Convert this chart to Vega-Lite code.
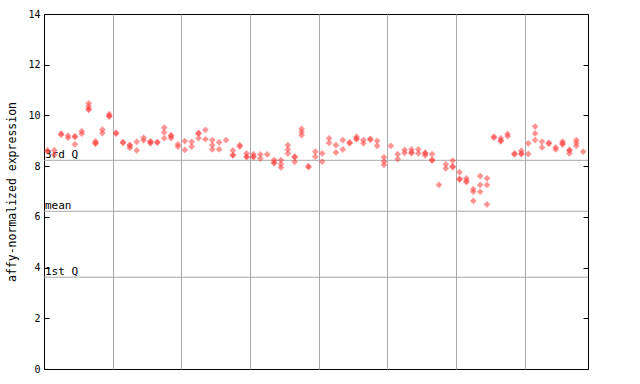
{
  "$schema": "https://vega.github.io/schema/vega-lite/v6.json",
  "width": 544,
  "height": 355,
  "autosize": "none",
  "padding": {"left": 44, "top": 14, "right": 52, "bottom": 15},
  "config": {"view": {"stroke": "#000000", "strokeWidth": 1}, "font": "DejaVu Sans Mono"},
  "layer": [
    {
      "data": {"values": [{"label": "3rd Q", "value": 8.23}, {"label": "mean", "value": 6.22}, {"label": "1st Q", "value": 3.62}]},
      "layer": [
        {
          "mark": {"type": "rule", "color": "#a8a8a8", "strokeWidth": 1},
          "encoding": {
            "y": {"field": "value", "type": "quantitative", "scale": {"domain": [0, 14]},
              "axis": {"orient": "right", "values": [0, 2, 4, 6, 8, 10, 12, 14], "tickSize": -5, "tickColor": "#000000", "labels": false, "domain": false, "grid": false, "title": null}}
          }
        },
        {
          "mark": {"type": "text", "align": "left", "baseline": "alphabetic", "dx": 1, "dy": -2, "fontSize": 11, "font": "DejaVu Sans Mono", "color": "#000000"},
          "encoding": {
            "x": {"datum": -0.5, "type": "quantitative", "scale": {"domain": [-0.5, 78.7]}},
            "y": {"field": "value", "type": "quantitative"},
            "text": {"field": "label"}
          }
        }
      ]
    },
    {
      "data": {"values": [
        {"sample": 0, "value": 8.62}, {"sample": 0, "value": 8.58},
        {"sample": 1, "value": 8.63}, {"sample": 1, "value": 8.45},
        {"sample": 2, "value": 9.28}, {"sample": 2, "value": 9.24},
        {"sample": 3, "value": 9.2}, {"sample": 3, "value": 9.12},
        {"sample": 4, "value": 9.18}, {"sample": 4, "value": 9.15}, {"sample": 4, "value": 8.86},
        {"sample": 5, "value": 9.38}, {"sample": 5, "value": 9.28},
        {"sample": 6, "value": 10.48}, {"sample": 6, "value": 10.36}, {"sample": 6, "value": 10.26}, {"sample": 6, "value": 10.22},
        {"sample": 7, "value": 8.92}, {"sample": 7, "value": 8.88}, {"sample": 7, "value": 8.98},
        {"sample": 8, "value": 9.44}, {"sample": 8, "value": 9.3},
        {"sample": 9, "value": 9.99}, {"sample": 9, "value": 9.95}, {"sample": 9, "value": 10.05},
        {"sample": 10, "value": 9.32}, {"sample": 10, "value": 9.28},
        {"sample": 11, "value": 8.95}, {"sample": 11, "value": 8.92},
        {"sample": 12, "value": 8.84}, {"sample": 12, "value": 8.8}, {"sample": 12, "value": 8.72},
        {"sample": 13, "value": 8.96}, {"sample": 13, "value": 8.62},
        {"sample": 14, "value": 9.12}, {"sample": 14, "value": 9.02},
        {"sample": 15, "value": 8.98}, {"sample": 15, "value": 8.95}, {"sample": 15, "value": 8.9},
        {"sample": 16, "value": 8.95}, {"sample": 16, "value": 8.93},
        {"sample": 17, "value": 9.52}, {"sample": 17, "value": 9.33}, {"sample": 17, "value": 9.1},
        {"sample": 18, "value": 9.22}, {"sample": 18, "value": 9.18}, {"sample": 18, "value": 9.1},
        {"sample": 19, "value": 8.86}, {"sample": 19, "value": 8.77},
        {"sample": 20, "value": 8.99}, {"sample": 20, "value": 8.64},
        {"sample": 21, "value": 8.96}, {"sample": 21, "value": 8.77},
        {"sample": 22, "value": 9.31}, {"sample": 22, "value": 9.28}, {"sample": 22, "value": 9.1},
        {"sample": 23, "value": 9.43}, {"sample": 23, "value": 9.06},
        {"sample": 24, "value": 9.03}, {"sample": 24, "value": 8.83}, {"sample": 24, "value": 8.66},
        {"sample": 25, "value": 8.94}, {"sample": 25, "value": 8.66},
        {"sample": 26, "value": 9.03},
        {"sample": 27, "value": 8.62}, {"sample": 27, "value": 8.44}, {"sample": 27, "value": 8.42},
        {"sample": 28, "value": 8.77}, {"sample": 28, "value": 8.83},
        {"sample": 29, "value": 8.38}, {"sample": 29, "value": 8.35}, {"sample": 29, "value": 8.5},
        {"sample": 30, "value": 8.38}, {"sample": 30, "value": 8.35}, {"sample": 30, "value": 8.47},
        {"sample": 31, "value": 8.46}, {"sample": 31, "value": 8.3},
        {"sample": 32, "value": 8.46},
        {"sample": 33, "value": 8.15}, {"sample": 33, "value": 8.11}, {"sample": 33, "value": 8.24},
        {"sample": 34, "value": 8.24}, {"sample": 34, "value": 8.08}, {"sample": 34, "value": 7.95},
        {"sample": 35, "value": 8.83}, {"sample": 35, "value": 8.66}, {"sample": 35, "value": 8.5},
        {"sample": 36, "value": 8.38}, {"sample": 36, "value": 8.35}, {"sample": 36, "value": 8.17},
        {"sample": 37, "value": 9.47}, {"sample": 37, "value": 9.35}, {"sample": 37, "value": 9.22},
        {"sample": 38, "value": 8.0}, {"sample": 38, "value": 7.96},
        {"sample": 39, "value": 8.57}, {"sample": 39, "value": 8.37},
        {"sample": 40, "value": 8.5}, {"sample": 40, "value": 8.18},
        {"sample": 41, "value": 9.1}, {"sample": 41, "value": 8.92},
        {"sample": 42, "value": 8.83}, {"sample": 42, "value": 8.54},
        {"sample": 43, "value": 9.03}, {"sample": 43, "value": 8.66},
        {"sample": 44, "value": 8.94}, {"sample": 44, "value": 8.9},
        {"sample": 45, "value": 9.16}, {"sample": 45, "value": 9.08}, {"sample": 45, "value": 9.06},
        {"sample": 46, "value": 9.03}, {"sample": 46, "value": 8.9},
        {"sample": 47, "value": 9.08}, {"sample": 47, "value": 9.04},
        {"sample": 48, "value": 9.0}, {"sample": 48, "value": 8.8},
        {"sample": 49, "value": 8.35}, {"sample": 49, "value": 8.18}, {"sample": 49, "value": 8.05},
        {"sample": 50, "value": 8.8},
        {"sample": 51, "value": 8.47}, {"sample": 51, "value": 8.28},
        {"sample": 52, "value": 8.64}, {"sample": 52, "value": 8.52},
        {"sample": 53, "value": 8.55}, {"sample": 53, "value": 8.51}, {"sample": 53, "value": 8.66},
        {"sample": 54, "value": 8.66}, {"sample": 54, "value": 8.5},
        {"sample": 55, "value": 8.53}, {"sample": 55, "value": 8.5}, {"sample": 55, "value": 8.42},
        {"sample": 56, "value": 8.47}, {"sample": 56, "value": 8.25}, {"sample": 56, "value": 8.22},
        {"sample": 57, "value": 7.26},
        {"sample": 58, "value": 8.07}, {"sample": 58, "value": 7.91},
        {"sample": 59, "value": 8.22}, {"sample": 59, "value": 8.0}, {"sample": 59, "value": 7.96},
        {"sample": 60, "value": 7.76}, {"sample": 60, "value": 7.5}, {"sample": 60, "value": 7.47},
        {"sample": 61, "value": 7.42}, {"sample": 61, "value": 7.37}, {"sample": 61, "value": 7.52},
        {"sample": 62, "value": 7.09}, {"sample": 62, "value": 6.99}, {"sample": 62, "value": 6.63},
        {"sample": 63, "value": 7.61}, {"sample": 63, "value": 7.26}, {"sample": 63, "value": 6.99},
        {"sample": 64, "value": 7.52}, {"sample": 64, "value": 7.26}, {"sample": 64, "value": 6.49},
        {"sample": 65, "value": 9.16}, {"sample": 65, "value": 9.12},
        {"sample": 66, "value": 9.1}, {"sample": 66, "value": 9.01}, {"sample": 66, "value": 8.98},
        {"sample": 67, "value": 9.27}, {"sample": 67, "value": 9.18},
        {"sample": 68, "value": 8.5}, {"sample": 68, "value": 8.46},
        {"sample": 69, "value": 8.61}, {"sample": 69, "value": 8.5}, {"sample": 69, "value": 8.47},
        {"sample": 70, "value": 8.9}, {"sample": 70, "value": 8.48},
        {"sample": 71, "value": 9.56}, {"sample": 71, "value": 9.29}, {"sample": 71, "value": 9.03},
        {"sample": 72, "value": 8.97}, {"sample": 72, "value": 8.74},
        {"sample": 73, "value": 8.92}, {"sample": 73, "value": 8.88},
        {"sample": 74, "value": 8.74}, {"sample": 74, "value": 8.66},
        {"sample": 75, "value": 8.97}, {"sample": 75, "value": 8.9}, {"sample": 75, "value": 8.85},
        {"sample": 76, "value": 8.64}, {"sample": 76, "value": 8.62}, {"sample": 76, "value": 8.5},
        {"sample": 77, "value": 9.03}, {"sample": 77, "value": 8.92}, {"sample": 77, "value": 8.8},
        {"sample": 78, "value": 8.57}
      ]},
      "mark": {"type": "point", "shape": "diamond", "filled": true, "size": 45, "color": "#ff4040", "opacity": 0.55},
      "encoding": {
        "x": {"field": "sample", "type": "quantitative", "scale": {"domain": [-0.5, 78.7], "nice": false, "zero": false},
          "axis": {"values": [9.5, 19.5, 29.5, 39.5, 49.5, 59.5, 69.5], "grid": true, "gridColor": "#a8a8a8", "gridOpacity": 1, "ticks": false, "labels": false, "domain": false, "title": null}},
        "y": {"field": "value", "type": "quantitative", "scale": {"domain": [0, 14]},
          "axis": {"orient": "left", "values": [0, 2, 4, 6, 8, 10, 12, 14], "tickSize": -5, "tickColor": "#000000", "domain": false, "grid": false,
            "labelFont": "DejaVu Sans Mono", "labelFontSize": 10, "labelColor": "#000000", "labelPadding": 9,
            "title": "affy-normalized expression", "titleFont": "DejaVu Sans Mono", "titleFontSize": 11.5, "titleFontWeight": "normal", "titleColor": "#000000", "titlePadding": 10}}
      }
    }
  ],
  "resolve": {"axis": {"y": "independent"}}
}
